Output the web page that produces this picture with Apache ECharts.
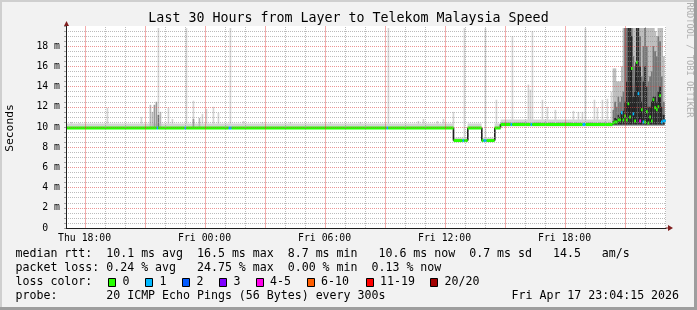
<!DOCTYPE html>
<html><head><meta charset="utf-8">
<script src="https://cdn.jsdelivr.net/npm/echarts@6/dist/echarts.min.js"></script>
<style>html,body{margin:0;padding:0;background:#f2f2f2;overflow:hidden}#c{width:697px;height:310px}</style>
</head><body><div id="c"></div>
<script>
// ---------------- data (time in hours since Thu 00:00, values in ms) ----------------
const TITLE = 'Last 30 Hours from Layer to Telekom Malaysia Speed';
const X_MIN = 17.07, X_MAX = 47.07;
const xTickHours = [18, 24, 30, 36, 42];
const xTickLabels = ['Thu 18:00', 'Fri 00:00', 'Fri 06:00', 'Fri 12:00', 'Fri 18:00'];
const minorGridHours = [19, 20, 22, 23, 25, 26, 28, 29, 31, 32, 34, 35, 37, 38, 40, 41, 43, 44, 46, 47];
const majorGridHours = [18, 21, 24, 27, 30, 33, 36, 39, 42, 45];
const yTickValues = [0, 2, 4, 6, 8, 10, 12, 14, 16, 18];
const yTickLabels = ['0  ', '2 m', '4 m', '6 m', '8 m', '10 m', '12 m', '14 m', '16 m', '18 m'];
const lossLabels = ['0', '1', '2', '3', '4-5', '6-10', '11-19', '20/20'];
const lossColors = ['#26ff00', '#00b8ff', '#0059ff', '#7e00ff', '#ff00ea', '#ff5e00', '#ff0000', '#a10000'];

// median rtt, step segments (start time, value, loss class)
const medT = [17.07, 21.60, 21.68, 23.00, 23.08, 25.20, 25.35, 33.10, 33.18, 36.45, 36.90, 36.98,
  37.15, 37.85, 37.95, 38.10, 38.50, 38.80, 39.30, 39.38, 40.30, 40.38, 42.90, 43.05];
const medV = [9.9, 9.9, 9.9, 9.9, 9.9, 9.9, 9.9, 9.9, 9.9, 8.66, 8.66, 8.66,
  9.9, 8.66, 8.66, 8.66, 9.9, 10.25, 10.25, 10.25, 10.25, 10.25, 10.25, 10.25];
const medLoss = [0, 1, 0, 1, 0, 1, 0, 1, 0, 0, 1, 0, 0, 0, 1, 0, 0, 0, 1, 0, 1, 0, 1, 0];

// last hours: 5-minute samples
const chaosT = [44.40, 44.48, 44.57, 44.65, 44.73, 44.82, 44.90, 44.98, 45.07, 45.15, 45.23, 45.32, 45.40, 45.48, 45.57, 45.65,
  45.73, 45.82, 45.90, 45.98, 46.07, 46.15, 46.23, 46.32, 46.40, 46.48, 46.57, 46.65, 46.73, 46.82, 46.90];
const chaosMed = [10.4, 10.5, 10.5, 10.7, 10.7, 11.4, 10.7, 11.1, 10.7, 12.3, 11.0, 15.8, 11.3, 10.6, 16.4, 13.3,
  10.6, 11.7, 10.5, 10.5, 11.5, 10.4, 11.0, 10.6, 12.7, 11.9, 11.7, 12.0, 13.1, 10.5, 10.6];
const chaosLoss = [0, 0, 0, 0, 0, 1, 0, 0, 0, 0, 0, 0, 1, 0, 0, 1, 4, 0, 1, 0, 0, 0, 0, 0, 0, 0, 0, 0, 0, 1, 1];
const CHAOS_LO = 10.15;
const chaosOuter = [15.8, 15.8, 14.5, 14.5, 14.5, 16.0, 19.8, 19.8, 19.8, 19.8, 19.8, 19.8, 19.8, 19.8, 19.8, 19.8,
  19.8, 19.8, 19.8, 19.8, 19.8, 19.8, 19.8, 19.8, 19.8, 19.5, 19.0, 19.8, 19.8, 19.8, 17.0];
const chaosMid = [11.7, 12.5, 12.0, 13.0, 12.5, 13.0, 13.5, 19.8, 19.8, 19.8, 19.8, 19.8, 17.0, 16.0, 19.8, 19.8,
  19.0, 15.0, 18.0, 19.8, 18.0, 14.5, 15.0, 15.5, 18.0, 17.5, 17.0, 19.0, 18.5, 15.0, 12.5];
const chaosCore = [10.6, 10.9, 10.8, 11.2, 11.0, 11.5, 11.6, 12.5, 14.5, 19.8, 19.8, 19.0, 13.0, 13.5, 19.8, 19.8,
  16.0, 12.5, 14.5, 16.0, 14.0, 12.0, 12.0, 12.5, 13.0, 13.0, 12.5, 13.5, 14.0, 12.0, 11.2];

// smoke bands: [start, end, low, high, shade]
const smokeBands = [
  [17.07, 36.45, 9.8, 10.35, 0],
  [36.45, 37.15, 8.5, 8.95, 0],
  [37.15, 37.85, 9.8, 10.35, 0],
  [37.85, 38.50, 8.5, 8.95, 0],
  [38.50, 38.80, 9.8, 10.35, 0],
  [38.80, 44.40, 10.05, 10.75, 0],
  [38.80, 44.40, 10.15, 10.5, 1]
];
// single-sample smoke spikes: [time, low, high, shade]
const smokeSpikes = [
  [17.30, 9.8, 10.5, 0], [17.70, 9.8, 10.4, 0], [19.10, 9.8, 11.9, 0], [20.80, 9.8, 11.0, 0],
  [21.25, 9.8, 12.2, 1], [21.35, 9.8, 11.5, 1], [21.45, 9.8, 12.2, 2], [21.55, 9.8, 12.5, 2],
  [21.65, 9.8, 19.8, 0], [21.65, 9.8, 11.2, 3], [21.75, 9.8, 11.5, 1], [22.15, 9.8, 11.9, 0],
  [22.35, 9.8, 10.8, 0], [23.05, 9.8, 19.8, 0], [23.40, 9.8, 12.6, 0], [23.40, 9.8, 10.8, 2],
  [23.70, 9.8, 10.9, 1], [23.85, 9.8, 11.3, 0], [24.05, 9.8, 11.8, 0], [24.40, 9.8, 12.0, 0],
  [24.65, 9.8, 11.4, 0], [25.25, 9.8, 19.8, 0], [25.90, 9.8, 10.6, 0], [26.85, 9.8, 10.5, 0],
  [28.25, 9.8, 10.5, 0], [30.25, 9.8, 10.5, 0], [31.75, 9.8, 10.5, 0], [33.15, 9.8, 19.8, 0],
  [34.65, 9.8, 10.6, 0], [34.90, 9.8, 10.8, 0], [35.60, 9.8, 10.6, 0], [35.90, 9.8, 10.8, 0],
  [36.40, 9.8, 11.5, 0], [36.40, 8.66, 9.9, 4], [36.95, 8.6, 19.8, 0], [37.12, 8.66, 9.9, 4],
  [37.82, 8.66, 9.9, 4], [38.00, 8.6, 19.8, 0], [38.47, 8.66, 9.9, 4], [38.55, 9.9, 12.7, 0],
  [38.75, 9.9, 10.25, 4], [39.35, 10.1, 19.0, 0], [40.15, 10.1, 14.2, 0], [40.25, 10.1, 13.7, 0],
  [40.35, 10.1, 19.5, 0], [40.85, 10.1, 12.7, 0], [41.10, 10.1, 12.0, 0], [41.50, 10.1, 11.7, 0],
  [42.40, 10.1, 11.6, 0], [42.65, 10.1, 11.5, 0], [42.85, 10.1, 11.5, 0], [43.00, 10.1, 19.8, 0],
  [43.45, 10.1, 12.7, 0], [43.60, 10.1, 11.9, 0], [43.85, 10.1, 12.7, 0], [44.10, 10.1, 12.8, 0],
  [44.30, 10.1, 13.5, 0]
];

const legendRow1 = 'median rtt:  10.1 ms avg  16.5 ms max  8.7 ms min   10.6 ms now  0.7 ms sd   14.5   am/s';
const legendRow2 = 'packet loss: 0.24 % avg   24.75 % max  0.00 % min  0.13 % now';
const legendRow3 = 'loss color:';
const legendRow4 = 'probe:       20 ICMP Echo Pings (56 Bytes) every 300s';
const legendDate = 'Fri Apr 17 23:04:15 2026';
const watermark = 'RRDTOOL / TOBI OETIKER';
const yName = 'Seconds';

// ---------------- styles ----------------
const STEP = 1 / 12;
const SHADES = ['#d4d4d4', '#b9b9b9', '#9a9a9a', '#707070', '#3a3a3a', '#202020'];
const CHAOS_SHADES = ['#bdbdbd', '#777777', '#2a2a2a'];
const MONO = '"DejaVu Sans Mono", "Liberation Mono", monospace';
const MINOR = 'rgba(143,143,143,0.6)';
const MAJOR = 'rgba(222,79,79,0.6)';
const MAJOR_V = 'rgba(232,60,60,0.42)';

// ---------------- build series data ----------------
const allT = medT.concat(chaosT);
const allV = medV.concat(chaosMed);
const allL = medLoss.concat(chaosLoss);
const medRects = allT.map((t, i) => [t, i + 1 < allT.length ? allT[i + 1] : X_MAX, allV[i], allL[i]]);
const medLine = allT.map((t, i) => [t, allV[i]]).concat([[X_MAX, allV[allV.length - 1]]]);
const chaosRects = [];
chaosT.forEach((t, i) => {
  chaosRects.push([t, CHAOS_LO, chaosOuter[i], 0]);
  chaosRects.push([t, CHAOS_LO, chaosMid[i], 1]);
  chaosRects.push([t, CHAOS_LO + 0.1, chaosCore[i], 2]);
});
const xLabelData = xTickHours.map((h, i) => [h, 0, i]);

function rect(a, b, fill) {
  return { type: 'rect', shape: { x: a[0], y: a[1], width: Math.max(b[0] - a[0], 0.8), height: Math.max(b[1] - a[1], 0.8) }, style: { fill: fill } };
}
function minorGridSeries(name, hours, color) {
  return {
    type: 'custom', name: name, z: 6, clip: false, silent: true, data: hours.map(h => [h, 0]), encode: { x: 0, y: 1 },
    renderItem: (p, api) => {
      const a = api.coord([api.value(0), 0]), b = api.coord([api.value(0), 20]);
      const x = Math.round(a[0]) + 0.5;
      return { type: 'line', shape: { x1: x, y1: a[1], x2: x, y2: b[1] }, style: { stroke: color, fill: null, lineWidth: 1, lineDash: [1, 1] } };
    }
  };
}
function majorGridSeries(name, hours, color) {
  return {
    type: 'custom', name: name, z: 7, clip: false, silent: true, data: hours.map(h => [h, 0]), encode: { x: 0, y: 1 },
    renderItem: (p, api) => {
      const a = api.coord([api.value(0), 0]), b = api.coord([api.value(0), 20]);
      return { type: 'rect', shape: { x: Math.round(a[0]), y: b[1], width: 1, height: a[1] - b[1] }, style: { fill: color } };
    }
  };
}

const chart = echarts.init(document.getElementById('c'), null, { renderer: 'canvas' });

const graphics = [
  { type: 'rect', shape: { x: 0, y: 0, width: 697, height: 2 }, style: { fill: '#cfcfcf' }, silent: true },
  { type: 'rect', shape: { x: 0, y: 0, width: 2, height: 310 }, style: { fill: '#cfcfcf' }, silent: true },
  { type: 'rect', shape: { x: 0, y: 307, width: 697, height: 3 }, style: { fill: '#9e9e9e' }, silent: true },
  { type: 'rect', shape: { x: 694, y: 0, width: 3, height: 310 }, style: { fill: '#9e9e9e' }, silent: true },
  { type: 'text', x: 348.5, y: 19, style: { text: TITLE, font: '13.3px ' + MONO, fill: '#000', align: 'center', verticalAlign: 'middle', textAlign: 'center', textVerticalAlign: 'middle' } },
  { type: 'text', x: 10, y: 128, rotation: Math.PI / 2, style: { text: yName, font: '11.3px ' + MONO, fill: '#000', align: 'center', verticalAlign: 'middle', textAlign: 'center', textVerticalAlign: 'middle' } },
  { type: 'text', x: 689, y: 60, rotation: -Math.PI / 2, style: { text: watermark, font: '8.7px ' + MONO, fill: '#b0b0b0', align: 'center', verticalAlign: 'middle', textAlign: 'center', textVerticalAlign: 'middle' } },
  { type: 'polygon', shape: { points: [[666, 227.5], [668, 227.5], [668, 225], [673, 228], [668, 231], [668, 228.5], [666, 228.5]] }, style: { fill: '#801f1f' }, z: 20 },
  { type: 'polygon', shape: { points: [[64, 26], [66.5, 21], [69, 26]] }, style: { fill: '#801f1f' }, z: 20 }
];
const rowY = [254.3, 268.3, 282.3, 296.2];
[legendRow1, legendRow2, legendRow3, legendRow4].forEach((s, i) => {
  graphics.push({ type: 'text', x: 15.5, y: rowY[i], style: { text: s, font: '11.6px ' + MONO, fill: '#000', align: 'left', verticalAlign: 'middle', textAlign: 'left', textVerticalAlign: 'middle' } });
});
graphics.push({ type: 'text', x: 511.5, y: rowY[3], style: { text: legendDate, font: '11.6px ' + MONO, fill: '#000', align: 'left', verticalAlign: 'middle', textAlign: 'left', textVerticalAlign: 'middle' } });
const boxX = [108.5, 145.5, 182.5, 219.5, 256.5, 307.5, 366.5, 430.5];
const lblX = [122.5, 159.5, 196.5, 233.5, 270, 321, 380, 444.5];
lossLabels.forEach((l, i) => {
  graphics.push({ type: 'rect', shape: { x: boxX[i], y: 278.5, width: 7, height: 8 }, style: { fill: lossColors[i], stroke: '#000', lineWidth: 1 } });
  graphics.push({ type: 'text', x: lblX[i], y: rowY[2], style: { text: l, font: '11.6px ' + MONO, fill: '#000', align: 'left', verticalAlign: 'middle', textAlign: 'left', textVerticalAlign: 'middle' } });
});

chart.setOption({
  animation: false,
  backgroundColor: '#f2f2f2',
  grid: { left: 66, top: 26, width: 600, height: 202, show: true, backgroundColor: '#ffffff', borderWidth: 0 },
  xAxis: {
    type: 'value', min: X_MIN, max: X_MAX, z: 10,
    axisLine: { show: true, lineStyle: { color: '#1f1f1f', width: 1 } },
    axisTick: { show: false },
    axisLabel: { show: false },
    splitLine: { show: false }
  },
  yAxis: {
    type: 'value', min: 0, max: 20, interval: 0.5, z: 10,
    axisLine: { show: true, lineStyle: { color: '#1f1f1f', width: 1 } },
    axisTick: { show: true, length: 2, lineStyle: { color: 'rgba(143,143,143,0.8)' } },
    axisLabel: {
      color: '#000', fontFamily: MONO, fontSize: 9.8, margin: 6,
      formatter: v => { const i = yTickValues.indexOf(Math.round(v * 1000) / 1000); return i >= 0 ? yTickLabels[i] : ''; }
    },
    splitLine: { show: true, showMaxLine: false, lineStyle: { color: [MAJOR, MINOR, MINOR, MINOR], width: 1, type: [1, 1] } }
  },
  series: [
    {
      type: 'custom', name: 'smokeBands', z: 2, clip: true, data: smokeBands, encode: { x: [0, 1], y: [2, 3] },
      renderItem: (p, api) => rect(api.coord([api.value(0), api.value(3)]), api.coord([api.value(1), api.value(2)]), SHADES[api.value(4)])
    },
    {
      type: 'custom', name: 'smokeSpikes', z: 2, clip: true, data: smokeSpikes, encode: { x: 0, y: [1, 2] },
      renderItem: (p, api) => rect(api.coord([api.value(0), api.value(2)]), api.coord([api.value(0) + STEP, api.value(1)]), SHADES[api.value(3)])
    },
    {
      type: 'custom', name: 'chaosSmoke', z: 2, clip: true, data: chaosRects, encode: { x: 0, y: [1, 2] },
      renderItem: (p, api) => {
        const a = api.coord([api.value(0), api.value(2)]), b = api.coord([api.value(0) + STEP, api.value(1)]);
        b[0] += 0.4;
        return rect(a, b, CHAOS_SHADES[api.value(3)]);
      }
    },
    {
      type: 'line', name: 'medianLine', z: 3, data: medLine, step: 'end', showSymbol: false, symbol: 'none',
      lineStyle: { color: '#202020', width: 1 }, clip: true
    },
    {
      type: 'custom', name: 'median', z: 4, clip: true, data: medRects, encode: { x: [0, 1], y: 2 },
      renderItem: (p, api) => {
        const a = api.coord([api.value(0), api.value(2)]), b = api.coord([api.value(1), api.value(2)]);
        return { type: 'rect', shape: { x: a[0], y: a[1] - 1.5, width: Math.max(b[0] - a[0], 1.6), height: 3 }, style: { fill: lossColors[api.value(3)] } };
      }
    },
    minorGridSeries('minorGridX', minorGridHours, MINOR),
    majorGridSeries('majorGridX', majorGridHours, MAJOR_V),
    {
      type: 'custom', name: 'xLabels', z: 6, clip: false, silent: true, data: xLabelData, encode: { x: 0, y: 1 },
      renderItem: (p, api) => {
        const a = api.coord([api.value(0), 0]);
        return { type: 'text', x: a[0], y: a[1] + 10, style: { text: xTickLabels[api.value(2)], font: '9.8px ' + MONO, fill: '#000', align: 'center', verticalAlign: 'middle', textAlign: 'center', textVerticalAlign: 'middle' } };
      }
    }
  ],
  graphic: { elements: graphics }
});
</script>
</body></html>
